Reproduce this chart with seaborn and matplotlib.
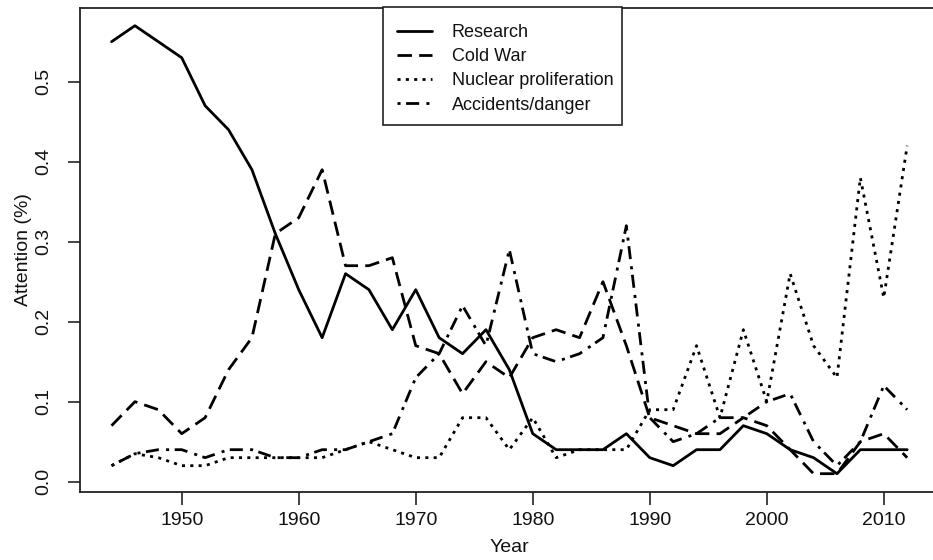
import matplotlib
matplotlib.use("Agg")
import matplotlib.pyplot as plt
from matplotlib.patches import Rectangle
import seaborn as sns
import pandas as pd

years = list(range(1944, 2013, 2))
research = [0.55, 0.57, 0.55, 0.53, 0.47, 0.44, 0.39, 0.31, 0.24, 0.18,
            0.26, 0.24, 0.19, 0.24, 0.18, 0.16, 0.19, 0.14, 0.06, 0.04,
            0.04, 0.04, 0.06, 0.03, 0.02, 0.04, 0.04, 0.07, 0.06, 0.04,
            0.03, 0.01, 0.04, 0.04, 0.04]
cold_war = [0.07, 0.10, 0.09, 0.06, 0.08, 0.14, 0.18, 0.31, 0.33, 0.39,
            0.27, 0.27, 0.28, 0.17, 0.16, 0.11, 0.15, 0.13, 0.18, 0.19,
            0.18, 0.25, 0.17, 0.08, 0.07, 0.06, 0.06, 0.08, 0.07, 0.04,
            0.01, 0.01, 0.05, 0.06, 0.03]
nuclear = [0.02, 0.035, 0.03, 0.02, 0.02, 0.03, 0.03, 0.03, 0.03, 0.03,
           0.04, 0.05, 0.04, 0.03, 0.03, 0.08, 0.08, 0.04, 0.08, 0.03,
           0.04, 0.04, 0.04, 0.09, 0.09, 0.17, 0.08, 0.19, 0.10, 0.26,
           0.17, 0.13, 0.38, 0.23, 0.42]
accidents = [0.02, 0.035, 0.04, 0.04, 0.03, 0.04, 0.04, 0.03, 0.03, 0.04,
             0.04, 0.05, 0.06, 0.13, 0.16, 0.22, 0.17, 0.29, 0.16, 0.15,
             0.16, 0.18, 0.32, 0.08, 0.05, 0.06, 0.08, 0.08, 0.10, 0.11,
             0.05, 0.02, 0.05, 0.12, 0.09]
series_names = ["Research", "Cold War", "Nuclear proliferation", "Accidents/danger"]
x_ticks = [1950, 1960, 1970, 1980, 1990, 2000, 2010]
y_ticks = [0.0, 0.1, 0.2, 0.3, 0.4, 0.5]
y_tick_labels = ["0.0", "0.1", "0.2", "0.3", "0.4", "0.5"]

sns.set_theme(style="white")
plt.rcParams["font.family"] = ["Liberation Sans", "DejaVu Sans"]

W, H = 933, 560
fig = plt.figure(figsize=(W / 100, H / 100), dpi=100)
left_px, right_px, top_px, bot_px = 79.7, 939.0, 7.8, 491.6
ax = fig.add_axes([left_px / W, (H - bot_px) / H,
                   (right_px - left_px) / W, (bot_px - top_px) / H])

styles = [None, (5.2, 2.6), (1.1, 1.9), (1.1, 2.0, 4.7, 2.6)]
for name, vals, dash in zip(series_names, [research, cold_war, nuclear, accidents], styles):
    d = pd.DataFrame({"Year": years, "Attention": vals})
    sns.lineplot(data=d, x="Year", y="Attention", color="black", linewidth=2.0,
                 ax=ax, label=name)
    ln = ax.lines[-1]
    if dash is not None:
        ln.set_dashes(dash)
        ln.set_dash_capstyle("butt")

ax.set_xlim(1941.28, 2014.72)
ax.set_ylim(-0.0124, 0.5924)
ax.set_xticks(x_ticks)
ax.set_xticklabels([str(t) for t in x_ticks])
ax.set_yticks(y_ticks)
ax.set_yticklabels(y_tick_labels, rotation=90, va="center")

for s in ax.spines.values():
    s.set_color("#222222")
    s.set_linewidth(1.3)

ax.tick_params(axis="both", which="both", bottom=True, left=True, direction="out",
               length=9, width=1.2, color="#222222", labelsize=14, labelcolor="#111111")
ax.tick_params(axis="x", pad=6)
ax.tick_params(axis="y", pad=11)

ax.set_xlabel("Year", fontsize=14, color="#111111")
ax.set_ylabel("Attention (%)", fontsize=14, color="#111111")
ax.xaxis.set_label_coords(0.5, -0.097)
ax.yaxis.set_label_coords(-0.055, 0.5)

# legend frame (R-style box)
box_l, box_r, box_t, box_b = 383, 622, 7, 125
fig.patches.append(Rectangle((box_l / W, 1 - box_b / H), (box_r - box_l) / W,
                             (box_b - box_t) / H, transform=fig.transFigure,
                             facecolor="white", edgecolor="#222222", linewidth=1.2,
                             zorder=5))

handles, labels = ax.get_legend_handles_labels()
leg = fig.legend(handles, labels, loc="upper left",
                 bbox_to_anchor=(397 / W, 1 - 24 / H), bbox_transform=fig.transFigure,
                 fontsize=13, handlelength=1.94, handletextpad=1.1, borderpad=0,
                 labelspacing=0.4, borderaxespad=0, frameon=False)
leg.set_zorder(6)
for t in leg.get_texts():
    t.set_color("#111111")
if ax.get_legend() is not None:
    ax.get_legend().remove()

fig.savefig("out.png", dpi=100)
